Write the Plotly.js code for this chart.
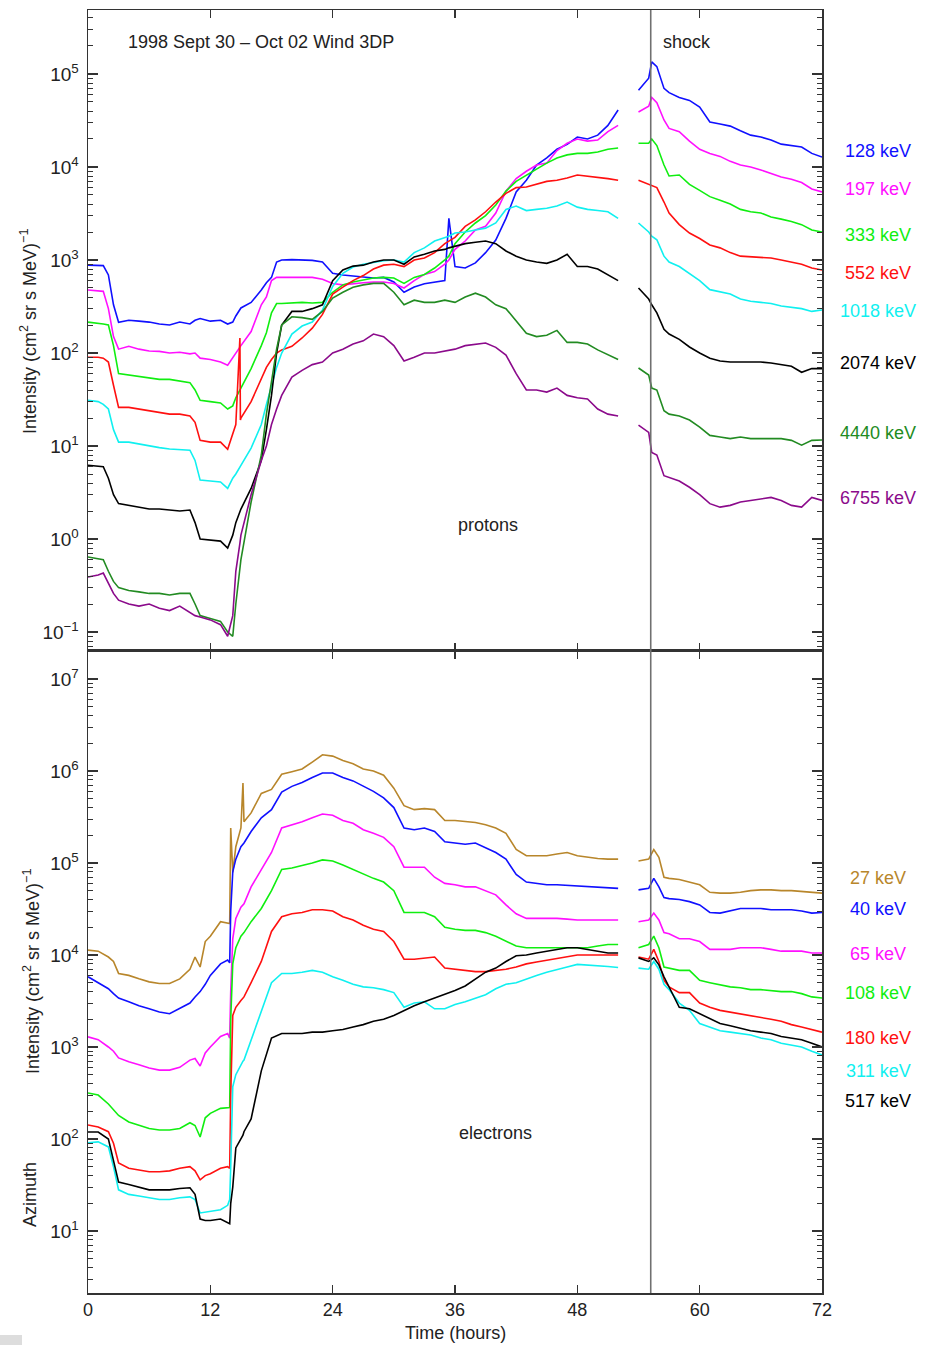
<!DOCTYPE html>
<html><head><meta charset="utf-8">
<script src="https://cdn.plot.ly/plotly-3.0.1.min.js"></script>
<style>html,body{margin:0;padding:0;background:#fff}#chart{width:928px;height:1345px}</style>
</head><body><div id="chart"></div>
<script>
// ---------- DATA ----------
const protonTime = [0,1,1.5,2,2.5,3,
 4,5,6,7,8,9,10,10.5,11,12,13,
 13.7,14.2,14.5,14.9,14.95,15,16,17,17.5,18,18.5,
 19,20,21,22,23,24,25,26,27,28,29,30,31,32,33,34,35,35.4,
 36,37,38,39,40,41,42,43,44,45,46,47,48,49,50,51,52,
 53,54,55,55.3,55.8,56.5,
 57,58,59,60,61,62,63,64,65,66,67,68,69,70,71,72];

const p128 = [880,880,870,690,330,214,
 225,220,215,205,200,215,205,225,235,220,225,
 205,215,250,290,295,305,350,475,570,650,950,
 1000,1010,1000,990,950,720,690,670,656,640,650,580,450,513,555,580,600,2800,
 850,820,930,1200,1640,2800,5400,7200,10500,12500,15500,17500,21000,20000,22000,28000,41000,
 null,67000,90000,135000,120000,70000,
 63000,56000,52000,44000,30500,29000,27500,24500,22000,21000,19500,17600,17000,16400,14000,12800];

const p197 = [475,470,460,300,150,110,
 118,110,105,104,100,102,98,100,88,85,80,
 74,90,100,115,118,120,170,330,400,600,650,
 650,660,650,650,620,560,540,560,570,580,580,560,500,600,700,750,900,1000,
 1300,1600,2100,2300,3200,5500,7500,9000,10500,11000,15000,18000,20000,19000,19500,24000,28000,
 null,39000,45000,56000,49000,32000,
 26000,24000,19000,15500,14000,13000,11500,10500,10000,9300,8500,7800,7400,6800,5800,5400];

const p333 = [215,210,205,200,120,60,
 58,56,54,52,52,50,48,40,31,30,29,
 25,27,33,40,41,42,68,120,165,270,340,
 340,345,350,345,350,450,540,580,610,640,650,640,560,650,700,820,1000,1100,
 1500,2000,2500,3000,3900,5500,7000,8200,9500,11000,12500,13500,14000,14000,14500,15500,16000,
 null,18000,18000,20000,17000,10500,
 8000,8200,6500,5600,4800,4400,4000,3500,3300,3200,2900,2750,2600,2400,2100,2000];

const p552 = [90,90,88,80,45,26,
 26,25,24,23,22,22,21,18,11.5,11,11,
 9.2,14,17,145,19,20,30,52,70,85,100,
 108,118,145,185,260,430,510,600,680,800,880,900,850,1000,1050,1200,1500,1600,
 1750,2300,2700,3300,4200,5200,6000,6100,6500,7000,7200,7600,8200,8000,7700,7500,7200,
 null,7200,6500,6400,6000,4200,
 3200,2400,1950,1700,1450,1350,1200,1100,1080,1080,1050,1000,950,900,820,780];

const p1018 = [31,30,28,25,15,11,
 11,10.5,10,9.6,9.3,9.2,9,7,4.3,4.2,4.1,
 3.5,4.5,5,6,6,6.2,9.5,17,28,44,70,
 100,160,195,215,290,520,720,840,900,940,980,1000,950,1200,1350,1600,1750,1800,
 1950,2000,2100,2200,2500,3500,3800,3400,3500,3600,3800,4200,3700,3500,3400,3300,2800,
 null,2500,2000,1800,1650,1100,
 950,850,720,600,480,450,430,380,360,350,340,320,310,300,280,290];

const p2074 = [6.2,6.1,6.0,4.5,3.0,2.4,
 2.3,2.2,2.1,2.1,2.05,2.0,2.05,1.5,1.0,0.98,0.95,
 0.8,1.1,1.5,2.0,2.05,2.1,3.5,7,15,35,100,
 200,280,280,300,330,600,780,860,880,950,1000,1000,900,1080,1150,1250,1300,1350,
 1400,1500,1550,1600,1500,1250,1100,1000,950,920,1000,1150,850,850,800,700,600,
 null,500,380,330,270,180,
 160,140,116,100,88,82,80,80,80,80,78,75,72,62,68,68];

const p4440 = [0.64,0.62,0.6,0.45,0.35,0.3,
 0.28,0.27,0.26,0.26,0.25,0.26,0.26,0.2,0.15,0.14,0.13,
 0.1,0.09,0.2,0.5,0.55,0.6,2.5,8,22,50,110,
 200,245,240,230,280,390,450,510,540,560,560,450,330,370,350,350,370,360,
 350,400,440,400,330,300,220,163,150,155,175,130,130,125,108,95,85,
 null,69,58,42,40,24,
 22,21,19,16,13,12.5,12,12.5,12,12,12,12,11.5,10.2,11.5,11.6];

const p6755 = [0.39,0.41,0.43,0.33,0.26,0.22,
 0.2,0.19,0.2,0.18,0.17,0.19,0.16,0.15,0.145,0.135,0.12,
 0.09,0.15,0.45,0.9,1.0,1.1,3.0,7,10,17,25,
 35,55,65,75,80,100,110,125,135,160,150,120,82,90,100,100,105,106,
 110,120,125,128,115,95,60,40,40,38,42,35,33,32,25,22,21,
 null,16.8,14,8.5,8,4.8,
 4.6,4.2,3.6,3,2.4,2.2,2.3,2.5,2.6,2.7,2.8,2.6,2.3,2.2,2.8,2.6];

const electronTime = [0,1,2,2.5,3,
 4,5,6,7,8,9,10,10.5,11,11.5,12,13,
 13.7,13.9,14.0,14.2,14.5,15,15.2,15.3,16,17,18,
 19,20,21,22,23,24,25,26,27,28,29,30,31,32,33,34,35,
 36,37,38,39,40,41,42,43,44,45,46,47,48,49,50,51,52,
 53,54,55,55.5,56,56.5,
 57,58,59,60,61,62,63,64,65,66,67,68,69,70,71,72];

const e27 = [11300,11000,9500,8500,6300,
 6000,5500,5100,4900,4900,5500,7000,9500,7400,14000,16000,23000,
 22000,22000,240000,79000,150000,240000,740000,280000,350000,570000,630000,
 920000,980000,1050000,1250000,1500000,1450000,1300000,1200000,1050000,1000000,900000,650000,420000,380000,390000,380000,290000,
 290000,280000,275000,260000,240000,210000,140000,120000,120000,120000,125000,130000,120000,115000,112000,110000,110000,
 null,105000,110000,140000,115000,70000,
 68000,66000,62000,58000,48000,47000,47000,48000,50000,51000,51000,50000,50000,49000,48000,47000];

const e40 = [5800,5000,4300,3800,3400,
 3100,2800,2600,2400,2300,2600,3000,3500,4000,4800,6000,8000,
 8800,8200,30000,80000,110000,150000,160000,165000,220000,310000,380000,
 590000,680000,750000,850000,950000,950000,850000,780000,680000,600000,510000,400000,240000,230000,240000,220000,170000,
 165000,160000,165000,145000,130000,110000,75000,62000,60000,58000,58000,57000,56000,55000,54000,53000,53000,
 null,51000,53000,68000,55000,42000,
 41000,40000,38000,35000,29000,28500,30000,32000,32000,32000,31000,31000,31000,30000,28500,29000];

const e65 = [1290,1200,1000,900,760,
 690,640,590,560,560,600,720,750,620,860,1000,1300,
 1400,1250,4000,15000,25000,33000,35000,36000,55000,85000,130000,
 240000,260000,280000,310000,340000,330000,290000,270000,230000,210000,190000,150000,90000,90000,90000,70000,60000,
 58000,55000,55000,50000,45000,35000,28000,25000,25000,25000,25000,24500,24000,24000,24000,24000,24000,
 null,23000,24000,28500,24000,17500,
 17000,15000,15000,14000,11500,11500,11500,12000,12000,12000,11500,11000,11000,11000,10500,10500];

const e108 = [316,300,240,210,180,
 153,140,130,125,125,130,150,140,105,170,190,215,
 222,220,2000,8000,12000,16000,17000,17500,23000,32000,50000,
 85000,88000,93000,100000,108000,105000,95000,85000,75000,68000,62000,50000,29000,29000,29000,26000,20000,
 19000,18500,18500,17500,16000,14000,12500,12000,12000,12000,12000,12000,12000,12000,12500,13000,13000,
 null,12000,13000,16000,12000,7400,
 7200,6800,6800,5300,5000,4700,4500,4400,4200,4200,4100,4000,4000,3800,3500,3400];

const e180 = [142,135,120,90,55,
 48,46,44,44,45,48,50,45,36,40,42,48,
 50,48,300,2200,2700,3200,3400,3500,5000,8500,18000,
 26000,28000,29000,31000,31000,30000,26000,24000,21000,19000,18000,14000,9000,9000,9200,9500,7200,
 7000,6800,6600,6600,6800,7000,7400,8000,8400,8800,9200,9500,10000,10000,10000,10000,10000,
 null,9500,9000,11500,8500,5300,
 4500,3900,3900,3000,2700,2500,2400,2300,2200,2100,2000,1900,1750,1650,1550,1450];

const e311 = [91,93,82,50,28,
 25,24,23,22,22,23,23.5,22,15.7,16,16.5,17,
 19,22,50,370,500,650,700,720,1200,2500,5000,
 6300,6300,6500,6800,6500,5800,5300,4800,4500,4400,4200,3900,2700,3000,3100,2600,2600,
 2900,3100,3400,3700,4300,4800,5000,5500,6000,6500,7000,7400,7900,7800,7600,7500,7300,
 null,7200,7000,8500,7000,4800,
 4200,3000,2500,1800,1650,1500,1450,1400,1350,1250,1200,1100,1050,1000,900,820];

const e517 = [119,119,100,60,34,
 32,30,28,28,28,29,29.5,25,13.5,13,13,13.5,
 12.5,12,20,30,80,100,110,120,165,550,1250,
 1400,1400,1400,1450,1450,1500,1550,1650,1750,1900,2000,2200,2500,2800,3100,3400,3700,
 4100,4600,5500,6500,7200,8500,9800,10000,10500,11000,11500,12000,12000,11500,11000,10500,10500,
 null,9300,8500,9300,7800,5800,
 4500,2700,2600,2300,2000,1800,1700,1600,1500,1450,1400,1300,1250,1200,1100,1000];

const protonLabels = ['128 keV','197 keV','333 keV','552 keV','1018 keV','2074 keV','4440 keV','6755 keV'];
const electronLabels = ['27 keV','40 keV','65 keV','108 keV','180 keV','311 keV','517 keV'];
const xTicks = [0,12,24,36,48,60,72];
const protonYTicks = [0.1,1,10,100,1000,10000,100000];
const protonYTickText = ['10<sup>\u22121</sup>','10<sup>0</sup>','10<sup>1</sup>','10<sup>2</sup>','10<sup>3</sup>','10<sup>4</sup>','10<sup>5</sup>'];
const electronYTicks = [10,100,1000,10000,100000,1000000,10000000];
const electronYTickText = ['10<sup>1</sup>','10<sup>2</sup>','10<sup>3</sup>','10<sup>4</sup>','10<sup>5</sup>','10<sup>6</sup>','10<sup>7</sup>'];
const shockTime = 55.2;

// ---------- STYLE ----------
const protonColors = ['#1010ff','#ff10ff','#10ee10','#ff1010','#10f0f0','#000000','#228b22','#8b0a8b'];
const electronColors = ['#b8862b','#1010ff','#ff10ff','#10ee10','#ff1010','#10f0f0','#000000'];
const protonData = [p128,p197,p333,p552,p1018,p2074,p4440,p6755];
const electronData = [e27,e40,e65,e108,e180,e311,e517];

// pixel helpers for layout positions (plot area 88..822 x 10..1293)
const px = x => (x-88)/734;
const py = y => (1293-y)/1283;

const traces = [];
protonData.forEach((d,i)=>traces.push({x:protonTime,y:d,xaxis:'x2',yaxis:'y',type:'scatter',mode:'lines',
  line:{color:protonColors[i],width:1.6},connectgaps:false,hoverinfo:'skip',name:protonLabels[i]}));
electronData.forEach((d,i)=>traces.push({x:electronTime,y:d,xaxis:'x',yaxis:'y2',type:'scatter',mode:'lines',
  line:{color:electronColors[i],width:1.6},connectgaps:false,hoverinfo:'skip',name:electronLabels[i]}));

const FONT = 'Liberation Sans, Arial, Helvetica, sans-serif';
const axisCommon = {showline:true,linecolor:'#333',linewidth:1.5,mirror:'ticks',ticks:'inside',
  tickcolor:'#333',tickwidth:1.2,showgrid:false,zeroline:false};
const xCommon = Object.assign({},axisCommon,{range:[0,72],tickvals:xTicks,ticklen:8,
  tickfont:{size:18,family:FONT,color:'#222'}});
const yCommon = Object.assign({},axisCommon,{type:'log',tickmode:'array',ticklen:10,ticklabelstandoff:4,
  tickfont:{size:19,family:FONT,color:'#222'},
  minor:{ticks:'inside',ticklen:5,tickcolor:'#333',tickwidth:1,dtick:'D1',showgrid:false}});

const annotations = [];
const protonLabelY = [151,189,235,273,311,363,433,498];
const electronLabelY = [878,909,954,993,1038,1071,1101];
protonLabels.forEach((t,i)=>annotations.push({text:t,xref:'paper',yref:'paper',x:px(878),y:py(protonLabelY[i]),
  xanchor:'center',yanchor:'middle',showarrow:false,font:{size:18,color:protonColors[i],family:FONT}}));
electronLabels.forEach((t,i)=>annotations.push({text:t,xref:'paper',yref:'paper',x:px(878),y:py(electronLabelY[i]),
  xanchor:'center',yanchor:'middle',showarrow:false,font:{size:18,color:electronColors[i],family:FONT}}));
const txt = (text,x,y,anchor,extra)=>Object.assign({text:text,xref:'paper',yref:'paper',x:px(x),y:py(y),
  xanchor:anchor,yanchor:'middle',showarrow:false,font:{size:18,color:'#222',family:FONT}},extra||{});
annotations.push(txt('1998 Sept 30 \u2013 Oct 02 Wind 3DP',126,42,'left'));
annotations.push(txt('shock',661,42,'left'));
annotations.push(txt('protons',488,525,'center'));
annotations.push(txt('electrons',495,1133,'center'));
annotations.push(txt('Time (hours)',455,1333,'center'));
annotations.push(txt('Intensity (cm<sup>2</sup> sr s MeV)<sup>\u22121</sup>',28,332,'center',{textangle:-90}));
annotations.push(txt('Intensity (cm<sup>2</sup> sr s MeV)<sup>\u22121</sup>',32,972,'center',{textangle:-90}));
annotations.push(txt('Azimuth',30,1195,'center',{textangle:-90}));

const layout = {
  width:928,height:1345,
  margin:{l:88,r:106,t:10,b:52,pad:0},
  paper_bgcolor:'#fff',plot_bgcolor:'#fff',
  showlegend:false,
  font:{family:FONT,size:17,color:'#222'},
  xaxis:Object.assign({},xCommon,{anchor:'y2',domain:[0,1]}),
  xaxis2:Object.assign({},xCommon,{anchor:'y',matches:'x',showticklabels:false,domain:[0,1]}),
  yaxis:Object.assign({},yCommon,{anchor:'x2',domain:[0.5004,1],range:[-1.204,5.688],
    tickvals:protonYTicks,ticktext:protonYTickText}),
  yaxis2:Object.assign({},yCommon,{anchor:'x',domain:[0,0.5004],range:[0.326,7.304],
    tickvals:electronYTicks,ticktext:electronYTickText}),
  shapes:[
    {type:'line',xref:'x',yref:'paper',x0:shockTime,x1:shockTime,y0:0,y1:1,line:{color:'#707070',width:1.6},layer:'above'},
    {type:'rect',xref:'paper',yref:'paper',x0:px(0),x1:px(22),y0:py(1345),y1:py(1335),fillcolor:'#dddddd',line:{width:0}}
  ],
  annotations:annotations
};

Plotly.newPlot('chart',traces,layout,{staticPlot:true,displayModeBar:false});
</script>
</body></html>
